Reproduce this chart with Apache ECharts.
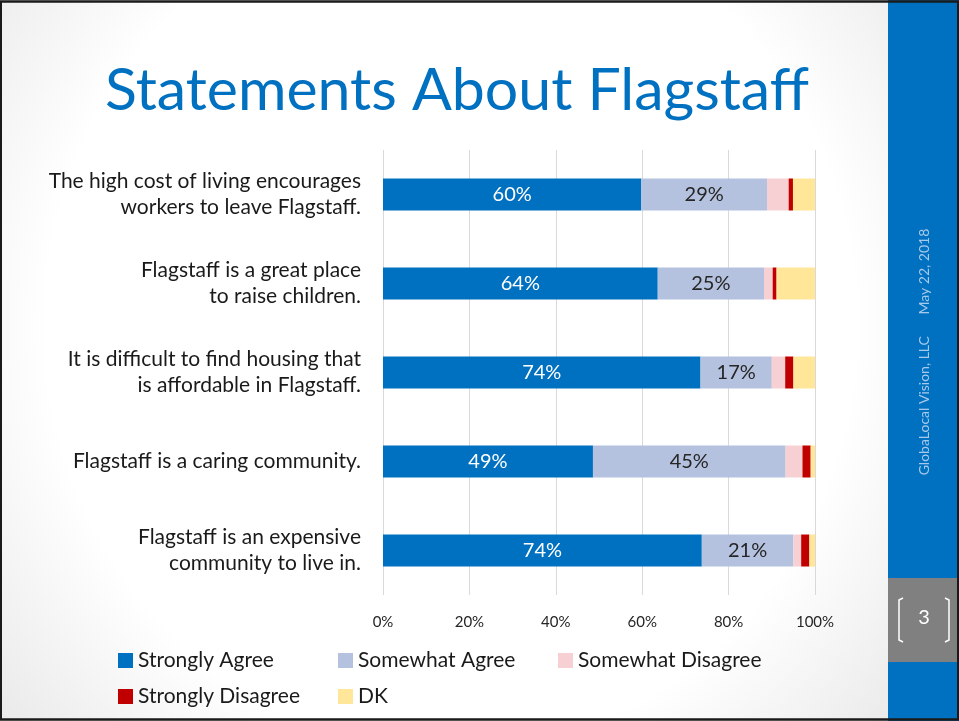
<!DOCTYPE html>
<html>
<head>
<meta charset="utf-8">
<script src="https://cdn.jsdelivr.net/npm/echarts@6/dist/echarts.min.js"></script>
<style>
  html, body { margin: 0; padding: 0; }
  body {
    width: 959px; height: 721px; overflow: hidden;
    background: radial-gradient(ellipse 68% 95% at 47% 45%, #ffffff 62%, #e2e2e2 100%);
  }
  #chart { width: 959px; height: 721px; }
</style>
</head>
<body>
<div id="chart"></div>
<script>
const statements = [
  'The high cost of living encourages\nworkers to leave Flagstaff.',
  'Flagstaff is a great place\nto raise children.',
  'It is difficult to find housing that\nis affordable in Flagstaff.',
  'Flagstaff is a caring community.',
  'Flagstaff is an expensive\ncommunity to live in.'
]
const seriesNames = ['Strongly Agree', 'Somewhat Agree', 'Somewhat Disagree', 'Strongly Disagree', 'DK']
const stronglyAgree = [59.8, 63.6, 73.5, 48.6, 73.8]
const somewhatAgree = [29.1, 24.6, 16.5, 44.6, 21.2]
const somewhatDisagree = [5.0, 2.0, 3.1, 3.9, 1.8]
const stronglyDisagree = [1.0, 0.9, 1.9, 1.9, 1.9]
const dontKnow = [5.1, 8.9, 5.0, 1.0, 1.3]
const xTicks = [0, 20, 40, 60, 80, 100]

const colors = ['#0070c0', '#b4c2df', '#f6d0d2', '#c00000', '#ffe699']
const font = 'Lato, "Open Sans", sans-serif'

// legend slots: [left, top] for each series
const legendPos = [[118, 650], [338, 650], [558, 650], [118, 686], [338, 686]]

const chart = echarts.init(document.getElementById('chart'))

const values = [stronglyAgree, somewhatAgree, somewhatDisagree, stronglyDisagree, dontKnow]
const series = seriesNames.map((name, i) => ({
  name,
  type: 'bar',
  stack: 'total',
  barWidth: 32,
  data: values[i],
  itemStyle: { color: colors[i] },
  label: i < 2 ? {
    show: true,
    position: 'inside',
    fontFamily: font,
    fontSize: 20,
    color: i === 0 ? '#ffffff' : '#262626',
    formatter: (p) => Math.round(p.value) + '%'
  } : { show: false }
}))

chart.setOption({
  animation: false,
  backgroundColor: 'transparent',
  title: {
    text: 'Statements About Flagstaff',
    left: 452,
    top: 56,
    textAlign: 'center',
    textStyle: { color: '#0070c0', fontFamily: font, fontWeight: 'normal', fontSize: 59 }
  },
  grid: { left: 383, right: 144, top: 150, bottom: 126, containLabel: false },
  xAxis: {
    type: 'value',
    min: 0,
    max: 100,
    interval: 20,
    axisLine: { show: false },
    axisTick: { show: false },
    axisLabel: {
      color: '#262626', fontFamily: font, fontSize: 15, margin: 20,
      formatter: (v) => xTicks.includes(v) ? v + '%' : ''
    },
    splitLine: { lineStyle: { color: '#d9d9d9', width: 1 } }
  },
  yAxis: {
    type: 'category',
    inverse: true,
    data: statements,
    axisLine: { show: false },
    axisTick: { show: false },
    axisLabel: {
      color: '#1a1a1a', fontFamily: font, fontSize: 21, margin: 22,
      align: 'right', lineHeight: 26
    }
  },
  legend: seriesNames.map((name, i) => ({
    data: [name],
    left: legendPos[i][0], top: legendPos[i][1],
    padding: 0,
    itemWidth: 15, itemHeight: 15, itemGap: 6,
    icon: 'rect',
    textStyle: { fontFamily: font, fontSize: 21, color: '#1a1a1a' }
  })),
  graphic: [
    { type: 'rect', shape: { x: 888, y: 0, width: 71, height: 721 }, style: { fill: '#0070c0' }, z: -1 },
    { type: 'rect', shape: { x: 888, y: 578, width: 71, height: 84 }, style: { fill: '#808080' } },
    { type: 'text', x: 924, y: 618, style: { text: '3', fill: '#ffffff', font: '20px ' + font, textAlign: 'center', textVerticalAlign: 'middle' } },
    { type: 'polyline', shape: { points: [[903, 598], [899, 600], [899, 640], [903, 642]] }, style: { stroke: '#ffffff', lineWidth: 1.5, fill: null } },
    { type: 'polyline', shape: { points: [[945, 598], [949, 600], [949, 640], [945, 642]] }, style: { stroke: '#ffffff', lineWidth: 1.5, fill: null } },
    {
      type: 'text', x: 924, y: 352, rotation: Math.PI / 2,
      style: { text: 'GlobaLocal Vision, LLC      May 22, 2018', fill: '#a9c9ea', font: '14px ' + font, textAlign: 'center', textVerticalAlign: 'middle' }
    },
    { type: 'rect', shape: { x: 0.75, y: 1.5, width: 957.5, height: 718 }, style: { fill: null, stroke: '#1a1a1a', lineWidth: 2.5 }, z: 10 }
  ],
  series
})
</script>
</body>
</html>
